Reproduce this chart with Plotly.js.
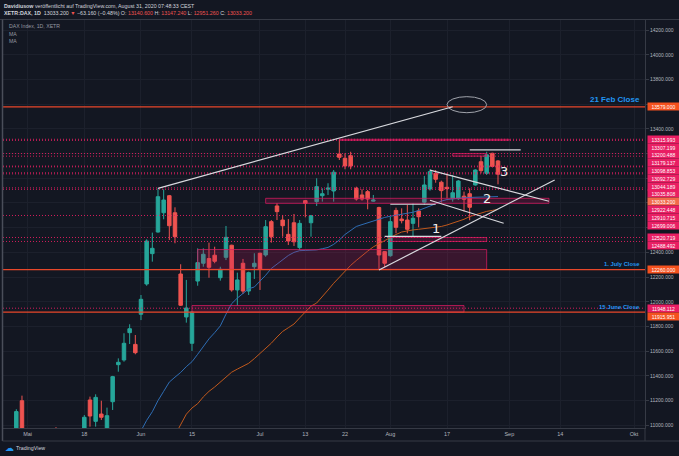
<!DOCTYPE html>
<html><head><meta charset="utf-8">
<script src="https://cdn.plot.ly/plotly-3.0.1.min.js"></script>
<style>html,body{margin:0;padding:0;background:#131722;}#chart{width:679px;height:456px;}</style>
</head><body><div id="chart"></div>
<script>
// ---------- DATA ----------
const dates = [
 '2020-04-29','2020-04-30',
 '2020-05-04','2020-05-05','2020-05-06','2020-05-07','2020-05-08',
 '2020-05-11','2020-05-12','2020-05-13','2020-05-14','2020-05-15',
 '2020-05-18','2020-05-19','2020-05-20','2020-05-21','2020-05-22',
 '2020-05-25','2020-05-26','2020-05-27','2020-05-28','2020-05-29',
 '2020-06-02','2020-06-03','2020-06-04','2020-06-05',
 '2020-06-08','2020-06-09','2020-06-10','2020-06-11','2020-06-12',
 '2020-06-15','2020-06-16','2020-06-17','2020-06-18','2020-06-19',
 '2020-06-22','2020-06-23','2020-06-24','2020-06-25','2020-06-26',
 '2020-06-29','2020-06-30','2020-07-01','2020-07-02','2020-07-03',
 '2020-07-06','2020-07-07','2020-07-08','2020-07-09','2020-07-10',
 '2020-07-13','2020-07-14','2020-07-15','2020-07-16','2020-07-17',
 '2020-07-20','2020-07-21','2020-07-22','2020-07-23','2020-07-24',
 '2020-07-27','2020-07-28','2020-07-29','2020-07-30','2020-07-31',
 '2020-08-03','2020-08-04','2020-08-05','2020-08-06','2020-08-07',
 '2020-08-10','2020-08-11','2020-08-12','2020-08-13','2020-08-14',
 '2020-08-17','2020-08-18','2020-08-19','2020-08-20','2020-08-21',
 '2020-08-24','2020-08-25','2020-08-26','2020-08-27','2020-08-28'
];
const open = [10890,11199,10590,10560,10740,10680,10800,10940,10840,10780,10440,10420,10600,11205,11032,11091,10960,11191,11491,11529,11750,11655,
 11899,12144,12390,12565,12721,12859,12721,12225,11877,11664,12168,12312,12350,12377,12195,12360,12458,12096,12312,12087,12284,12393,12379,12649,
 12776,12662,12546,12640,12439,12819,12640,12811,12859,12912,12897,13197,13162,13183,12919,12865,12892,12815,12763,12406,
 12373,12740,12670,12662,12635,12735,12806,12913,13040,12968,12927,12835,12835,12855,12875,12946,13134,13040,13202,13140.6];
const high = [11130,11240,10640,10790,10780,10820,10950,10985,10900,10850,10460,10560,11083,11232,11251,11199,11143,11400,11542,11745,11818,11731,
 12055,12506,12560,12919,12911,12865,12765,12304,12177,11925,12433,12433,12479,12446,12284,12614,12462,12236,12347,12244,12393,12398,12662,12662,
 12798,12703,12670,12711,12662,12824,12703,13000,12919,12960,13067,13310,13202,13215,12932,12911,12905,12865,12770,12410,
 12689,12762,12757,12784,12798,12757,13019,13073,13067,12981,13040,13027,12986,12892,12919,13073,13181,13215,13207,13147.24];
const low = [10860,10840,10400,10540,10570,10640,10780,10790,10760,10510,10160,10390,10590,10989,10989,11043,10930,11124,11434,11515,11658,11575,
 11852,12130,12325,12560,12668,12500,12474,11966,11831,11602,12130,12284,12195,12312,12171,12338,12082,11968,12063,12055,12185,12096,12365,12479,
 12662,12527,12460,12452,12419,12684,12527,12776,12811,12865,12811,13148,13073,13073,12819,12819,12749,12811,12258,12280,
 12365,12555,12635,12555,12527,12603,12784,12900,12964,12803,12838,12811,12824,12730,12660,12940,13040,13027,13089,12951.26];
const close = [11111,10862,10467,10729,10606,10759,10904,10825,10820,10542,10337,10465,11065,11075,11226,11065,11078,11394,11510,11664,11782,11588,
 12020,12492,12433,12851,12824,12616,12527,11972,11950,11917,12317,12385,12279,12328,12263,12522,12096,12177,12087,12236,12312,12263,12608,12527,
 12730,12616,12492,12486,12635,12797,12697,12932,12875,12920,13049,13170,13100,13100,12832,12832,12832,12824,12379,12312,
 12649,12603,12657,12587,12676,12689,12946,13054,12992,12900,12916,12883,12978,12830,12765,13067,13062,13190,13096.36,13033.2];

// moving averages (blue from 2020-06-02, orange from 2020-06-10)
const maBlueStart = '2020-06-02';
const maBlue = [10955,11040,11110,11200,11275,11350,11390,11428,11475,11515,11575,11640,11700,11750,11805,11900,11985,12030,12065,12105,12120,
 12165,12215,12270,12305,12340,12375,12400,12414,12416,12418,12420,12430,12440,12465,12500,12545,12575,12610,12625,12640,12655,12670,12683,
 12693,12700,12708,12715,12725,12740,12755,12775,12795,12815,12828,12834,12838,12842,12845,12847,12849,12850,12851,12852];
const maOrangeStart = '2020-06-10';
const maOrange = [10920,11010,11090,11140,11175,11230,11275,11310,11350,11395,11430,11455,11480,11502,11540,
 11580,11620,11665,11715,11760,11790,11820,11870,11920,11965,11990,12040,12095,12150,12200,12250,12295,12335,12375,12410,12445,12470,12495,
 12525,12545,12565,12575,12582,12587,12593,12598,12602,12610,12622,12636,12650,12668,12690,12705,12720,12732,12740,12748];

const tickDates  = ['2020-05-04','2020-05-18','2020-06-02','2020-06-15','2020-07-01','2020-07-13','2020-07-22','2020-08-03','2020-08-17','2020-09-01','2020-09-14','2020-10-01'];
const tickLabels = ['Mai','18','Jun','15','Jul','13','22','Aug','17','Sep','14','Okt'];
const priceTicks = [11000,11200,11400,11600,11800,12000,12200,12400,12600,12800,13000,13200,13400,13600,13800,14000,14200];
const hiddenPriceTicks = [12600,12800,13000,13200,13600];

const dottedLevels = [13315.993,13307.199,13200.488,13179.137,13098.853,13092.729,13044.189,13035.808,12922.448,12910.715,12699.006,12520.719,12488.492,11948.112];
const closeLevels = [13579.0,12260.0,11915.951];
const closeLevelNames = ['21 Feb Close','1. July Close','15 June Close'];

const zones = [
 ['2020-07-21','2020-09-01',13315.993,13307.199],
 ['2020-08-18','2020-08-26',13200.488,13179.137],
 ['2020-07-02','2020-09-10',12838,12797],
 ['2020-08-03','2020-08-26',12520.719,12488.492],
 ['2020-06-16','2020-08-26',12423,12263],
 ['2020-06-15','2020-08-20',11970,11916]
];
const trendLines = [
 ['2020-06-05',12919,'2020-08-18',13579],
 ['2020-07-30',12258,'2020-09-11',12986],
 ['2020-08-12',13066,'2020-09-10',12814],
 ['2020-08-12',12822,'2020-08-31',12636],
 ['2020-07-31',12530,'2020-08-14',12530],
 ['2020-08-03',12790,'2020-08-13',12790],
 ['2020-08-21',13230,'2020-09-03',13230]
];
const ellipse = ['2020-08-17','2020-08-26',13661,13531];
const waveLabels = [['1','2020-08-13',12595],['2','2020-08-26',12838],['3','2020-08-31',13053]];

// ---------- GEOMETRY ----------
const L=3, R=645, T=20, B=428, W=R-L, H=B-T;
const yMin=10978.1, yMax=14281.7;
const xMin=-2.35, xMax=110.94;
const cal = dates.slice();
let dd = new Date(dates[dates.length-1]+'T12:00:00Z');
while (cal.length < 140) { dd = new Date(dd.getTime()+86400000); const wd = dd.getUTCDay(); if (wd!==0 && wd!==6) cal.push(dd.toISOString().slice(0,10)); }
const xi = s => cal.indexOf(s);
const pyOf = p => T + (yMax-p)/(yMax-yMin)*H;
const paperY = pix => (B-pix)/H;
const paperX = pix => (pix-L)/W;

const UP='#26a69a', DN='#ef5350', PINK='#e91e63', ORANGE='#f4511e', BLUE='#2196f3';
const FONT='Liberation Sans, Arial, sans-serif';

const traces = [
 {type:'candlestick', x:dates.map((_,i)=>i), open:open, high:high, low:low, close:close,
  increasing:{line:{color:UP,width:1},fillcolor:UP}, decreasing:{line:{color:DN,width:1},fillcolor:DN},
  whiskerwidth:0, hoverinfo:'skip', showlegend:false},
 {type:'scatter', mode:'lines', x:maBlue.map((_,i)=>xi(maBlueStart)+i), y:maBlue, line:{color:'#2e6db4',width:1}, hoverinfo:'skip'},
 {type:'scatter', mode:'lines', x:maOrange.map((_,i)=>xi(maOrangeStart)+i), y:maOrange, line:{color:'#c0581c',width:1}, hoverinfo:'skip'}
];

const shapes = [];
zones.forEach(z=>shapes.push({type:'rect',xref:'x',yref:'y',x0:xi(z[0]),x1:xi(z[1]),y0:z[3],y1:z[2],
  fillcolor:'rgba(194,24,91,0.22)',line:{color:'rgba(216,27,96,0.75)',width:1},layer:'above'}));
dottedLevels.forEach(v=>shapes.push({type:'line',xref:'paper',yref:'y',x0:0,x1:1,y0:v,y1:v,
  line:{color:'rgba(233,30,99,0.9)',width:1,dash:'1px,2px'},layer:'above'}));
closeLevels.forEach(v=>shapes.push({type:'line',xref:'paper',yref:'y',x0:0,x1:1,y0:v,y1:v,
  line:{color:'#e8472a',width:1.2},layer:'above'}));
trendLines.forEach(t=>shapes.push({type:'line',xref:'x',yref:'y',x0:xi(t[0]),y0:t[1],x1:xi(t[2]),y1:t[3],
  line:{color:'#d8d9de',width:1.2},layer:'above'}));
shapes.push({type:'circle',xref:'x',yref:'y',x0:xi(ellipse[0]),x1:xi(ellipse[1]),y0:ellipse[3],y1:ellipse[2],
  line:{color:'#a0a3ab',width:1},layer:'above'});
// pane frame
const FR='#363a45';
shapes.push({type:'line',xref:'paper',yref:'paper',x0:paperX(0),x1:paperX(679),y0:paperY(19.5),y1:paperY(19.5),line:{color:FR,width:1}});
shapes.push({type:'line',xref:'paper',yref:'paper',x0:paperX(2.5),x1:paperX(2.5),y0:paperY(19.5),y1:paperY(441),line:{color:'#4a4e5a',width:1.5}});
shapes.push({type:'line',xref:'paper',yref:'paper',x0:paperX(2.5),x1:paperX(679),y0:paperY(441),y1:paperY(441),line:{color:FR,width:1}});
shapes.push({type:'line',xref:'paper',yref:'paper',x0:1,x1:1,y0:paperY(428),y1:paperY(441),line:{color:FR,width:1}});

const annotations = [];
// stacked price labels on the right axis
const lastClose = close[close.length-1], prevClose = close[close.length-2];
const boxes = dottedLevels.map(v=>({v:v,c:PINK})).concat(closeLevels.map(v=>({v:v,c:ORANGE}))).concat([{v:lastClose,c:'#f26a4b'}]);
boxes.sort((a,b)=>b.v-a.v);
let prevY = -1e9;
boxes.forEach(b=>{
  let y = Math.max(pyOf(b.v), prevY+7.8); prevY = y;
  annotations.push({xref:'paper',yref:'paper',x:1,xanchor:'left',xshift:1.5,y:paperY(y),yanchor:'middle',
    text:b.v.toFixed(3),showarrow:false,bgcolor:b.c,font:{family:FONT,size:5,color:'#ffffff'},width:31,height:7.2,borderpad:0,align:'center'});
});
// close level names
const nameSizes=[8,5.8,6];
closeLevels.forEach((v,i)=>annotations.push({xref:'paper',yref:'y',x:paperX(642),xanchor:'right',y:v,yanchor:'bottom',yshift:0.5,
  text:'<b>'+closeLevelNames[i]+'</b>',showarrow:false,font:{family:FONT,size:nameSizes[i],color:BLUE}}));
// wave labels
waveLabels.forEach(w=>annotations.push({xref:'x',yref:'y',x:xi(w[1]),y:w[2],text:w[0],showarrow:false,
  font:{family:'DejaVu Sans, sans-serif',size:13,color:'#eeeeee'}}));
// header
const chg = lastClose-prevClose, pct = chg/prevClose*100;
const red = s=>'<span style="color:#ef5350">'+s+'</span>';
const f3 = v=>v.toFixed(3);
annotations.push({xref:'paper',yref:'paper',x:paperX(2),xanchor:'left',y:paperY(6),yanchor:'middle',showarrow:false,
  text:'<b>Davidiusow</b> veröffentlicht auf TradingView.com, August 31, 2020 07:48:33 CEST',font:{family:FONT,size:5.3,color:'#d1d4dc'}});
annotations.push({xref:'paper',yref:'paper',x:paperX(2),xanchor:'left',y:paperY(13.2),yanchor:'middle',showarrow:false,
  text:'<b>XETR:DAX, 1D</b>  '+f3(lastClose)+' '+red('▼')+' '+(chg<0?'−':'+')+Math.abs(chg).toFixed(3)+' ('+(pct<0?'−':'+')+Math.abs(pct).toFixed(2)+'%) O: '+red(f3(open[open.length-1]))+' H: '+red(f3(high[high.length-1]))+' L: '+red(f3(low[low.length-1]))+' C: '+red(f3(lastClose)),
  font:{family:FONT,size:5.3,color:'#d1d4dc'}});
['DAX Index, 1D, XETR','MA','MA'].forEach((t,i)=>annotations.push({xref:'paper',yref:'paper',x:paperX(7),xanchor:'left',y:paperY(26+i*7.5),yanchor:'middle',
  showarrow:false,text:t,font:{family:FONT,size:5.2,color:'#9598a1'}}));
annotations.push({xref:'paper',yref:'paper',x:paperX(3),xanchor:'left',y:paperY(448),yanchor:'middle',showarrow:false,
  text:'☁',font:{family:'DejaVu Sans, sans-serif',size:9,color:BLUE}});
annotations.push({xref:'paper',yref:'paper',x:paperX(14),xanchor:'left',y:paperY(448),yanchor:'middle',showarrow:false,
  text:'TradingView',font:{family:FONT,size:5.3,color:'#d1d4dc'}});

const layout = {
  width:679, height:456, margin:{l:L,r:679-R,t:T,b:456-B,pad:0},
  paper_bgcolor:'#131722', plot_bgcolor:'#131722', showlegend:false, boxgap:0.12, boxgroupgap:0.3,
  font:{family:FONT,size:5.5,color:'#b2b5be'},
  xaxis:{type:'linear',range:[xMin,xMax],tickmode:'array',tickvals:tickDates.map(xi),ticktext:tickLabels,
    showgrid:true,gridcolor:'#1c202c',gridwidth:1,zeroline:false,showline:true,linecolor:FR,ticks:'',
    tickfont:{size:5.5,color:'#b2b5be'},rangeslider:{visible:false},fixedrange:true},
  yaxis:{side:'right',range:[yMin,yMax],tickmode:'array',tickvals:priceTicks,
    ticktext:priceTicks.map(v=>hiddenPriceTicks.includes(v)?'':v.toFixed(3)),
    showgrid:true,gridcolor:'#1c202c',zeroline:false,showline:true,linecolor:FR,ticks:'outside',ticklen:3,tickcolor:FR,
    tickfont:{size:5,color:'#b2b5be'},fixedrange:true},
  shapes:shapes, annotations:annotations
};
Plotly.newPlot('chart',traces,layout,{staticPlot:true,displayModeBar:false});
</script></body></html>
